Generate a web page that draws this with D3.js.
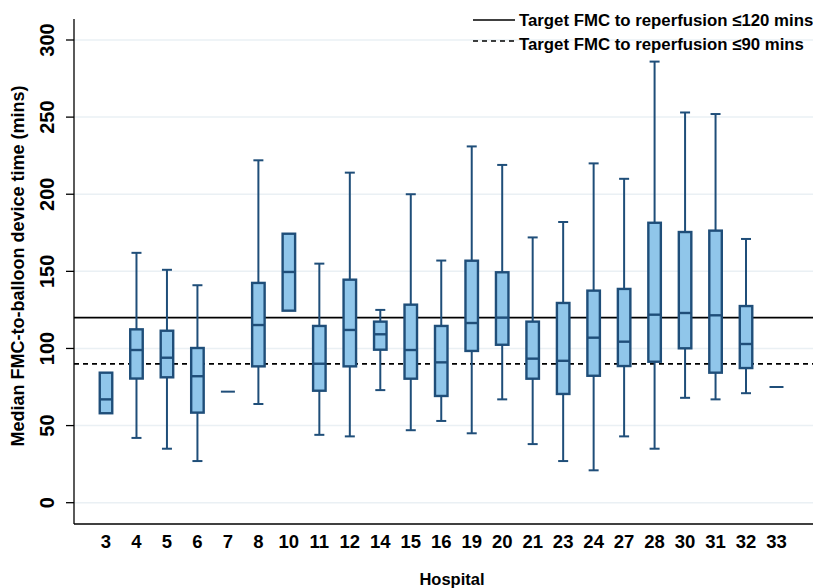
<!DOCTYPE html>
<html>
<head>
<meta charset="utf-8">
<script src="https://cdn.jsdelivr.net/npm/d3@7"></script>
<style>
  html, body { margin: 0; padding: 0; background: #fff; }
  svg { display: block; }
  text { font-family: Arial, "Liberation Sans", Helvetica, sans-serif; font-weight: bold; fill: #000; }
</style>
</head>
<body>
<svg id="chart" width="813" height="588"></svg>
<script>
// Hospitals and FMC-to-balloon time summaries (minutes)
const hospitals   = ["3","4","5","6","7","8","10","11","12","14","15","16","19","20","21","23","24","27","28","30","31","32","33"];
const lowWhisker  = [58, 42, 35, 27, 72, 64, 124.5, 44, 43, 73, 47, 53, 45, 67, 38, 27, 21, 43, 35, 68, 67, 71, 75];
const q1          = [58, 80.5, 81.3, 58.4, 72, 88.4, 124.5, 72.6, 88.4, 99.2, 80.4, 69.2, 98.4, 102.4, 80.4, 70.5, 82.3, 88.6, 91.4, 100.1, 84.3, 87.3, 75];
const median      = [67, 99, 94, 82, 72, 115.2, 149.6, 90.1, 112, 109.2, 99, 91, 116.5, 120, 93.4, 92, 107, 104.4, 121.9, 123, 121.5, 102.9, 75];
const q3          = [84.3, 112.4, 111.5, 100.3, 72, 142.5, 174.4, 114.6, 144.6, 117.4, 128.4, 114.6, 156.9, 149.4, 117.4, 129.5, 137.5, 138.6, 181.5, 175.5, 176.4, 127.5, 75];
const highWhisker = [84.3, 162, 151, 141, 72, 222, 174.4, 155, 214, 125, 200, 157, 231, 219, 172, 182, 220, 210, 286, 253, 252, 171, 75];

// Reference targets
const targets = [
  { value: 120, label: "Target FMC to reperfusion \u2264120 mins", dash: null },
  { value: 90,  label: "Target FMC to reperfusion \u226490 mins",  dash: "5,4" }
];
const yTicks = [0, 50, 100, 150, 200, 250, 300];

const svg = d3.select("#chart");
const plotLeft = 74, plotRight = 813, axisTop = 19, axisBottom = 524;

const y = d3.scaleLinear().domain([0, 300]).range([502.7, 40]);
const x = d3.scalePoint().domain(hospitals).range([106, 776.5]);

const boxStroke = "#1f4e79", boxFill = "#90c6ea";

// Gridlines
svg.append("g").selectAll("line").data(yTicks).join("line")
  .attr("x1", plotLeft).attr("x2", plotRight)
  .attr("y1", d => y(d)).attr("y2", d => y(d))
  .attr("stroke", "#eaf0f4").attr("stroke-width", 1.5);

// Reference lines
svg.append("g").selectAll("line").data(targets).join("line")
  .attr("x1", plotLeft).attr("x2", plotRight)
  .attr("y1", d => y(d.value)).attr("y2", d => y(d.value))
  .attr("stroke", "#000").attr("stroke-width", 1.6)
  .attr("stroke-dasharray", d => d.dash);

// Box plots
const rows = hospitals.map((h, i) => ({
  h, lo: lowWhisker[i], q1: q1[i], med: median[i], q3: q3[i], hi: highWhisker[i]
}));
const boxW = 12.5, capW = 10;
const g = svg.append("g");
rows.forEach(d => {
  const cx = x(d.h);
  if (d.q1 === d.q3) {
    g.append("line").attr("x1", cx - 7).attr("x2", cx + 7)
      .attr("y1", y(d.med)).attr("y2", y(d.med))
      .attr("stroke", boxStroke).attr("stroke-width", 2);
    return;
  }
  if (d.hi > d.q3) {
    g.append("line").attr("x1", cx).attr("x2", cx).attr("y1", y(d.q3)).attr("y2", y(d.hi))
      .attr("stroke", boxStroke).attr("stroke-width", 2);
    g.append("line").attr("x1", cx - capW / 2).attr("x2", cx + capW / 2).attr("y1", y(d.hi)).attr("y2", y(d.hi))
      .attr("stroke", boxStroke).attr("stroke-width", 2);
  }
  if (d.lo < d.q1) {
    g.append("line").attr("x1", cx).attr("x2", cx).attr("y1", y(d.q1)).attr("y2", y(d.lo))
      .attr("stroke", boxStroke).attr("stroke-width", 2);
    g.append("line").attr("x1", cx - capW / 2).attr("x2", cx + capW / 2).attr("y1", y(d.lo)).attr("y2", y(d.lo))
      .attr("stroke", boxStroke).attr("stroke-width", 2);
  }
  g.append("rect").attr("x", cx - boxW / 2).attr("width", boxW)
    .attr("y", y(d.q3)).attr("height", y(d.q1) - y(d.q3))
    .attr("fill", boxFill).attr("stroke", boxStroke).attr("stroke-width", 2.4);
  g.append("line").attr("x1", cx - boxW / 2).attr("x2", cx + boxW / 2)
    .attr("y1", y(d.med)).attr("y2", y(d.med))
    .attr("stroke", boxStroke).attr("stroke-width", 2.4);
});

// Y axis
const yAxis = svg.append("g");
yAxis.append("line").attr("x1", plotLeft).attr("x2", plotLeft)
  .attr("y1", axisTop).attr("y2", axisBottom).attr("stroke", "#000").attr("stroke-width", 1.3);
yAxis.selectAll(".tick").data(yTicks).join("line")
  .attr("x1", plotLeft - 8).attr("x2", plotLeft)
  .attr("y1", d => y(d)).attr("y2", d => y(d))
  .attr("stroke", "#000").attr("stroke-width", 1.3);
yAxis.selectAll("text").data(yTicks).join("text")
  .attr("transform", d => `translate(54,${y(d)}) rotate(-90)`)
  .attr("text-anchor", "middle").attr("font-size", 20)
  .text(d => d);

// X axis
const xAxis = svg.append("g");
xAxis.append("line").attr("x1", plotLeft).attr("x2", plotRight)
  .attr("y1", axisBottom).attr("y2", axisBottom).attr("stroke", "#000").attr("stroke-width", 1.3);
xAxis.selectAll("text").data(hospitals).join("text")
  .attr("x", d => x(d)).attr("y", 548.3)
  .attr("text-anchor", "middle").attr("font-size", 18.5)
  .text(d => d);

// Axis titles
svg.append("text").attr("x", 452).attr("y", 585)
  .attr("text-anchor", "middle").attr("font-size", 16.5).text("Hospital");
svg.append("text").attr("transform", "translate(24,266) rotate(-90)")
  .attr("text-anchor", "middle").attr("font-size", 18)
  .text("Median FMC-to-balloon device time (mins)");

// Legend
const legend = svg.append("g");
targets.forEach((t, i) => {
  const ly = i === 0 ? 20 : 41;
  legend.append("line").attr("x1", 473).attr("x2", 515).attr("y1", ly).attr("y2", ly)
    .attr("stroke", "#000").attr("stroke-width", 1.4).attr("stroke-dasharray", t.dash);
  legend.append("text").attr("x", 519).attr("y", i === 0 ? 26 : 50)
    .attr("font-size", 16.8).text(t.label);
});
</script>
</body>
</html>
